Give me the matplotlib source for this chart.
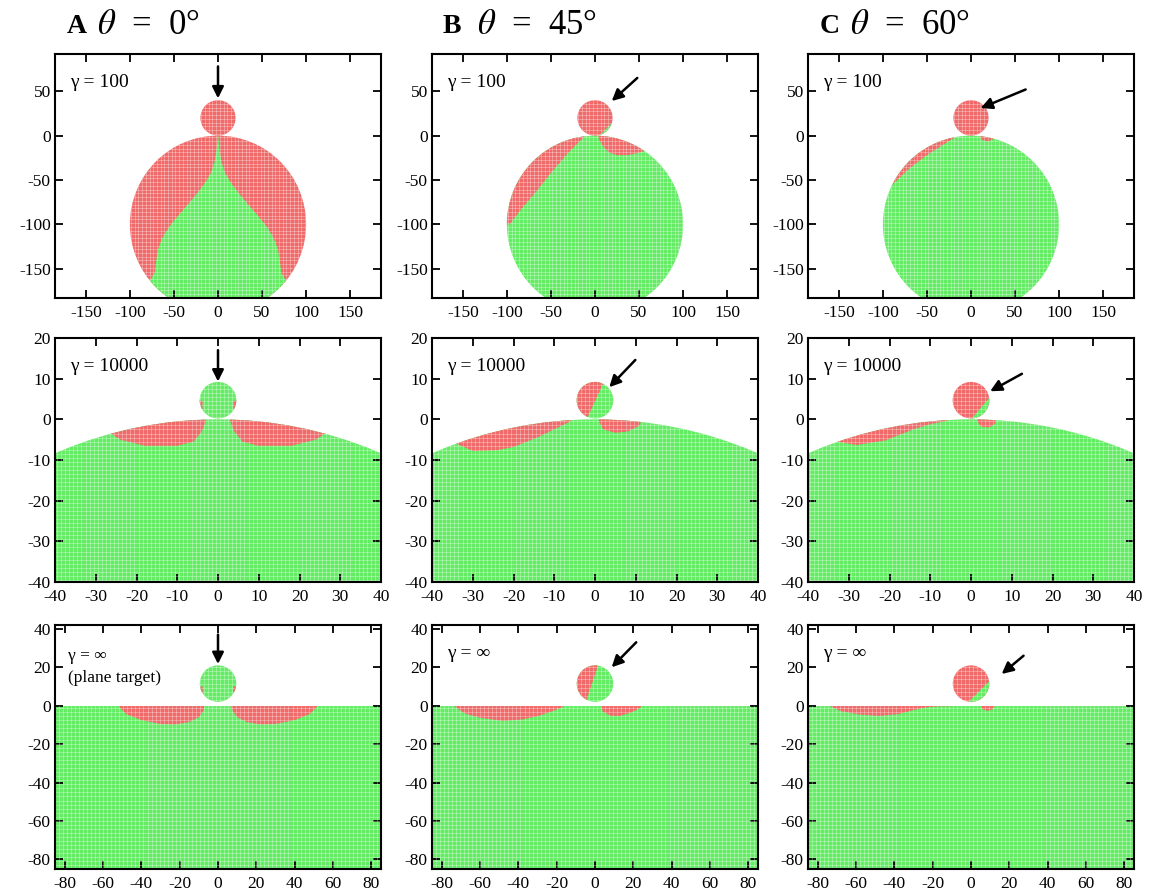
import matplotlib.pyplot as plt
import numpy as np
from matplotlib.patches import Circle, Rectangle, Polygon

plt.rcParams['font.family'] = ['Liberation Serif', 'DejaVu Serif']
plt.rcParams['mathtext.fontset'] = 'stix'
plt.rcParams['axes.unicode_minus'] = False

# column headers
col_letters = ['A', 'B', 'C']
col_angles = [0, 45, 60]
row_gamma = ['γ = 100', 'γ = 10000', 'γ = ∞']

# plot windows per row
row_xlim = [(-185, 185), (-40, 40), (-85, 85)]
row_ylim = [(-183, 92), (-40, 20), (-85, 42)]
row_xticks = [np.arange(-150, 151, 50), np.arange(-40, 41, 10), np.arange(-80, 81, 20)]
row_yticks = [np.arange(-150, 51, 50), np.arange(-40, 21, 10), np.arange(-80, 41, 20)]
row_cell = [4.2, 1.0, 2.1]          # sampling step of the grid

# projectile sphere (cx, cy, r) and target sphere (cx, cy, r); None = plane y <= 0
row_projectile = [(0, 20, 20), (0, 4.7, 4.5), (0, 11.5, 9.5)]
row_target = [(0, -100, 100), (0, -100, 100), None]

# base colour of target / projectile in each panel
target_base = [['red', 'green', 'green'], ['green'] * 3, ['green'] * 3]
proj_base = [['red', 'red', 'red'], ['green', 'green', 'red'], ['green', 'green', 'red']]

# regions with the opposite colour, inside the target
target_swap = {
    (0, 0): [[(0, 5), (1.5, -15), (4, -30), (8, -42), (14, -52), (22, -63), (32, -75), (45, -90),
              (55, -102), (63, -115), (68, -128), (70, -140), (72, -155), (80, -168), (90, -200),
              (-90, -200), (-80, -168), (-72, -155), (-70, -140), (-68, -128), (-63, -115),
              (-55, -102), (-45, -90), (-32, -75), (-22, -63), (-14, -52), (-8, -42), (-4, -30),
              (-1.5, -15)]],
    (0, 1): [[(-12, -1), (-31, -20), (-50, -42), (-65, -61), (-83, -82), (-97, -100),
              (-130, -100), (-130, 10), (-12, 10)],
             [(4, -3), (9, -12), (16, -19), (25, -22), (37, -22), (47, -20), (57, -17),
              (60, 10), (4, 10)]],
    (0, 2): [[(-15, 0), (-28, -8), (-50, -22), (-70, -37), (-92, -58), (-130, -58),
              (-130, 10), (-15, 10)],
             [(10, -1), (13, -5), (20, -6.5), (25, -4), (25, 5), (10, 5)]],
    (1, 0): [[(-27, -3), (-24, -5), (-18, -6.5), (-10, -6.5), (-6, -5.5), (-4, -3),
              (-3, -0.5), (-3, 2), (-30, 2)],
             [(27, -3), (24, -5), (18, -6.5), (10, -6.5), (6, -5.5), (4, -3),
              (3, -0.5), (3, 2), (30, 2)]],
    (1, 1): [[(-35, -5.5), (-30, -7.8), (-24, -7.6), (-20, -6.8), (-14, -4.4), (-9.5, -2.2),
              (-6, -0.5), (-5, 3), (-40, 3)],
             [(1, -0.5), (2, -2.5), (5, -3.3), (8, -3), (11, -1.5), (11.5, 1), (1, 1)]],
    (1, 2): [[(-33, -5.5), (-28, -6.3), (-21, -5.2), (-14, -2.4), (-10, -1.2), (-6, -0.4),
              (-5, 3), (-40, 3)],
             [(1.5, -0.5), (2.5, -1.8), (4.5, -2), (6, -1), (6, 1), (1.5, 1)]],
    (2, 0): [[(-53, 1), (-48, -4.3), (-40, -7.5), (-30, -9.5), (-22, -9.7), (-15, -8.5),
              (-10, -6), (-7.5, -2.5), (-7, 1)],
             [(53, 1), (48, -4.3), (40, -7.5), (30, -9.5), (22, -9.7), (15, -8.5),
              (10, -6), (7.5, -2.5), (7, 1)]],
    (2, 1): [[(-75, 1), (-68, -4), (-60, -6.3), (-48, -7.9), (-38, -7.2), (-30, -5.5),
              (-22, -2.8), (-17, -0.8), (-15, 1)],
             [(3, 1), (4, -3), (8, -5.2), (13, -5.3), (19, -3.5), (23.5, -1.2), (25, 1)]],
    (2, 2): [[(-76, 1), (-68, -2.8), (-58, -4.6), (-48, -5.3), (-38, -4.4), (-30, -2.3),
              (-24, -1), (-18, -0.4), (-8, -0.2), (-7, 1)],
             [(4.5, 1), (6, -1.8), (8.5, -2.7), (11, -2), (13.5, 1)]],
}

# regions with the opposite colour, inside the projectile
proj_swap = {
    (0, 1): [[(5, 0), (20, 15), (30, 15), (30, -5), (5, -5)]],
    (1, 0): [[(-6, 1), (-3.8, 2.5), (-3.8, 4.5), (-6, 5)],
             [(6, 1), (3.8, 2.5), (3.8, 4.5), (6, 5)]],
    (1, 1): [[(3.5, 12), (-2.6, -1.2), (-10, -1.2), (-10, 12)]],
    (1, 2): [[(-0.8, -1), (8, 9.5), (10, 9.5), (10, -1)]],
    (2, 0): [[(-12, 5), (-8, 6.5), (-8, 10), (-12, 10)],
             [(12, 5), (8, 6.5), (8, 10), (12, 10)]],
    (2, 1): [[(2.6, 24), (-5.4, 0), (-15, 0), (-15, 24)]],
    (2, 2): [[(-2.3, 1), (12, 15.2), (14, 15.2), (14, 1)]],
}

# impact direction arrows: tail -> head
arrow_tail = [[(0, 78), (48, 65), (62, 52)],
              [(0, 17), (9.9, 14.6), (12.5, 11.2)],
              [(0, 37), (21.5, 33), (27.4, 26)]]
arrow_head = [[(0, 42), (19, 39), (11, 31)],
              [(0, 9.3), (3.5, 7.9), (4.7, 6.9)],
              [(0, 21.7), (8.7, 20), (16, 16.5)]]

COLORS = {'green': '#64ec64', 'red': '#f06a6a'}
OTHER = {'green': 'red', 'red': 'green'}

W, H = 1150, 894
col_left = [55, 432, 808]
row_top = [54, 338, 625]
ax_w, ax_h = 326, 244

fig = plt.figure(figsize=(W / 100, H / 100), dpi=100)


def fill_body(ax, body, base, swaps, xs, ys, y0, y1, x0, x1):
    """Body patch in its base colour, swapped regions clipped to it, sampling grid on top."""
    body.set_facecolor(COLORS[base])
    body.set_edgecolor('none')
    ax.add_patch(body)
    for poly in swaps:
        p = Polygon(poly, closed=True, facecolor=COLORS[OTHER[base]], edgecolor='none')
        ax.add_patch(p)
        p.set_clip_path(body)
    lv = ax.vlines(xs, y0, y1, colors='white', alpha=0.3, lw=0.6, antialiased=False)
    lh = ax.hlines(ys, x0, x1, colors='white', alpha=0.3, lw=0.6, antialiased=False)
    lv.set_clip_path(body)
    lh.set_clip_path(body)


for r in range(3):
    x0, x1 = row_xlim[r]
    y0, y1 = row_ylim[r]
    step = row_cell[r]
    xs = (np.arange(np.floor(x0 / step), np.ceil(x1 / step) + 1) + 0.5) * step
    ys = (np.arange(np.floor(y0 / step), np.ceil(y1 / step) + 1) + 0.5) * step

    for c in range(3):
        ax = fig.add_axes([col_left[c] / W, 1 - (row_top[r] + ax_h) / H, ax_w / W, ax_h / H])

        if row_target[r] is None:
            targ = Rectangle((x0 - 10, y0 - 10), x1 - x0 + 20, -(y0 - 10))
        else:
            tcx, tcy, tr = row_target[r]
            targ = Circle((tcx, tcy), tr)
        fill_body(ax, targ, target_base[r][c], target_swap.get((r, c), []),
                  xs, ys, y0, y1, x0, x1)

        pcx, pcy, pr = row_projectile[r]
        fill_body(ax, Circle((pcx, pcy), pr), proj_base[r][c], proj_swap.get((r, c), []),
                  xs, ys, y0, y1, x0, x1)

        ax.annotate('', xy=arrow_head[r][c], xytext=arrow_tail[r][c],
                    arrowprops=dict(arrowstyle='-|>', color='black', lw=1.8,
                                    mutation_scale=17, shrinkA=0, shrinkB=0))

        if r == 2 and c == 0:
            ax.text(0.04, 0.872, row_gamma[r], transform=ax.transAxes, fontsize=12.5,
                    va='center', ha='left')
            ax.text(0.04, 0.782, '(plane target)', transform=ax.transAxes, fontsize=12.5,
                    va='center', ha='left')
        else:
            ax.text(0.045, 0.885, row_gamma[r], transform=ax.transAxes, fontsize=14,
                    va='center', ha='left')

        ax.set_xlim(x0, x1)
        ax.set_ylim(y0, y1)
        ax.set_xticks(row_xticks[r])
        ax.set_yticks(row_yticks[r])
        ax.tick_params(direction='in', top=True, right=True, length=6, width=1.3,
                       labelsize=12.5)
        ax.tick_params(axis='x', pad=5)
        ax.tick_params(axis='y', pad=3)
        for sp in ax.spines.values():
            sp.set_linewidth(1.5)

# column headers
title_x = [67, 443, 820]
theta_x = [97, 477, 850]
for c in range(3):
    fig.text(title_x[c] / W, 1 - 33 / H, col_letters[c], fontsize=20, fontweight='bold',
             va='baseline', ha='left')
    fig.text(theta_x[c] / W, 1 - 34 / H, r'$\theta$  =  %d°' % col_angles[c], fontsize=25,
             va='baseline', ha='left')

fig.savefig('out.png', dpi=100)
